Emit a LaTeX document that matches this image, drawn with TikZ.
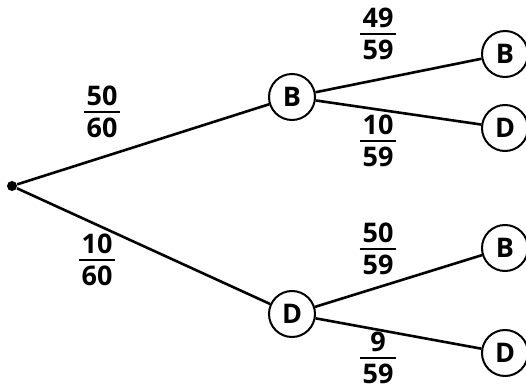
\documentclass[tikz,border=0pt]{standalone}
\usepackage{fontspec}
\setmainfont{Open Sans}

\newcommand{\frc}[2]{{\renewcommand\arraystretch{0}\setlength\arrayrulewidth{1pt}%
  \begin{tabular}{@{\hspace{1.5pt}}c@{\hspace{1.5pt}}}\rule[-2.5pt]{0pt}{10pt}#1\\\hline\rule{0pt}{12.5pt}#2\end{tabular}}}

\tikzset{
  state/.style={draw, circle, line width=1pt, minimum size=23pt, inner sep=0pt,
    font=\fontsize{13.5}{15}\selectfont\bfseries},
  branch/.style={line width=1.3pt},
  prob/.style={inner sep=0pt, font=\fontsize{13.5}{15}\selectfont\bfseries},
  start/.style={circle, fill, inner sep=0pt, minimum size=5pt}
}

\begin{document}
\begin{tikzpicture}[x=0.5pt, y=-0.5pt]
    \useasboundingbox (0,0) rectangle (526,390);

    % 1. NODOS DEL ARBOL
    \node[start] (s) at (12,186) {};
    \node[state] (b) at (292,97) {B};
    \node[state] (d) at (292,314) {D};
    \node[state] (bb) at (505,54) {B};
    \node[state] (bd) at (505,128) {D};
    \node[state] (db) at (505,248) {B};
    \node[state] (dd) at (505,353) {D};

    % 2. RAMAS
    \draw[branch] (s) -- (b);
    \draw[branch] (s) -- (d);
    \draw[branch] (b) -- (bb);
    \draw[branch] (b) -- (bd);
    \draw[branch] (d) -- (db);
    \draw[branch] (d) -- (dd);

    % 3. PROBABILIDADES
    \node[prob] (pb) at (102,112) {\frc{50}{60}};
    \node[prob] (pd) at (97,260) {\frc{10}{60}};
    \node[prob] (pbb) at (378,34) {\frc{49}{59}};
    \node[prob] (pbd) at (378,141) {\frc{10}{59}};
    \node[prob] (pdb) at (378,249) {\frc{50}{59}};
    \node[prob] (pdd) at (378,358) {\frc{9}{59}};
\end{tikzpicture}
\end{document}
